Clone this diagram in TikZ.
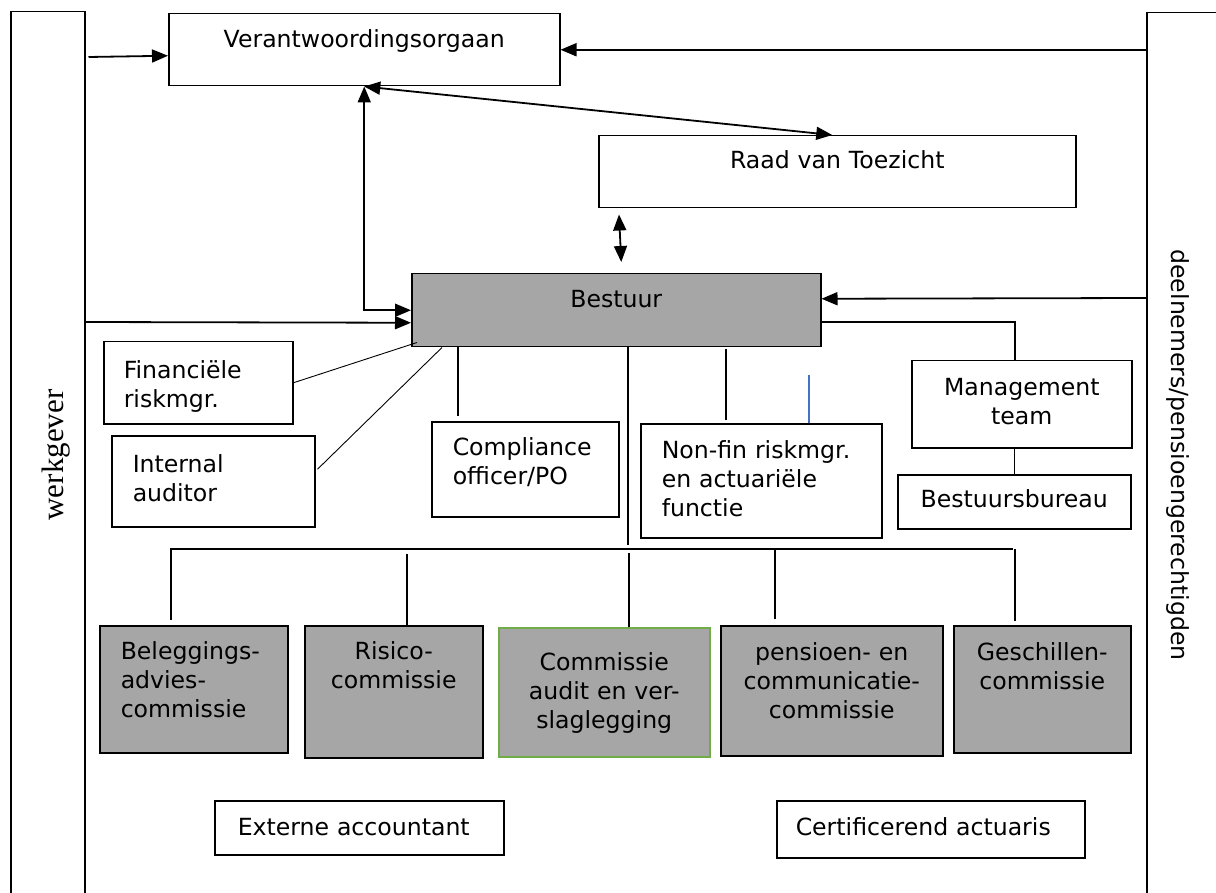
\documentclass[tikz,border=0pt]{standalone}
\usepackage{fontspec}
\setmainfont{DejaVu Sans}
\newfontfamily\serifside{Liberation Serif}
\usepackage{xcolor}
\usepackage{tikz}
\usetikzlibrary{calc}
\usetikzlibrary{arrows.meta}
\definecolor{boxgray}{HTML}{A6A6A6}
\definecolor{auditgreen}{HTML}{70AD47}
\definecolor{strayblue}{HTML}{4472C4}
\tikzset{
  unit/.style={draw, line width=0.75pt, fill=white, inner ysep=0pt, anchor=north west,
    font=\fontsize{11.8}{14.5}\selectfont},
  board/.style={unit, fill=boxgray},
  bar/.style={draw, line width=0.75pt, inner sep=0pt, minimum height=470pt, anchor=north west},
  link/.style={line width=0.75pt},
  thin link/.style={line width=0.45pt},
  arr/.style={line width=0.9pt, -{Triangle[length=8pt,width=6.5pt]}},
  darr/.style={line width=0.9pt, {Triangle[length=8pt,width=6.5pt]}-{Triangle[length=8pt,width=6.5pt]}},
}

\begin{document}
\begin{tikzpicture}[x=0.5pt,y=-0.5pt]
    \useasboundingbox (0,0) rectangle (1216,893);
    \clip (0,0) rectangle (1216,893);
    % side bars
        \node[bar, minimum width=37pt] (wg) at (10,11) {};
        \node[bar, minimum width=50pt] (dp) at (1146,12) {};
        \node[rotate=90, font=\serifside\fontsize{15.5}{18}\selectfont] (wgtext) at (56,455) {werkgever};
        \node[rotate=-90, font=\fontsize{11.8}{14}\selectfont] (dptext) at (1178,455) {deelnemers/pensioengerechtigden};
    % top
        \node[unit, text width=195.5pt, inner xsep=0pt, align=center, text height=17pt, text depth=19pt] (vo) at (168,13) {Verantwoordingsorgaan};
        \node[unit, text width=238.5pt, inner xsep=0pt, align=center, text height=16.5pt, text depth=19.5pt] (raad) at (598,135) {Raad van Toezicht};
        \node[board, text width=204.5pt, inner xsep=0pt, align=center, text height=17pt, text depth=19.5pt] (bestuur) at (411,273) {Bestuur};
    % functions round the board
        \node[unit, text width=74.5pt, inner xsep=10pt, align=left, text height=18.5pt, text depth=22.5pt] (fin) at (103,341) {Financiële\\riskmgr.};
        \node[unit, text width=80.5pt, inner xsep=10.5pt, align=left, text height=18.5pt, text depth=27pt] (internal) at (111,435) {Internal\\auditor};
        \node[unit, text width=72.5pt, inner xsep=10.5pt, align=left, text height=17pt, text depth=30.5pt] (compliance) at (431,421) {Compliance\\officer/PO};
        \node[unit, text width=99.5pt, inner xsep=10.5pt, align=left, text height=17.5pt, text depth=39.5pt] (nonfin) at (640,423) {Non-fin riskmgr.\\en actuariële\\functie};
        \node[unit, text width=110pt, inner xsep=0pt, align=center, text height=17.5pt, text depth=26pt] (mgmt) at (911,360) {Management\\team};
        \node[unit, text width=116.5pt, inner xsep=0pt, align=center, text height=16.5pt, text depth=10.5pt] (bureau) at (897,474) {Bestuursbureau};
    % committees
        \node[board, text width=73pt, inner xsep=10.5pt, align=left, text height=17pt, text depth=46.5pt] (beleg) at (99,625) {Beleggings-\\advies-\\commissie};
        \node[board, text width=89pt, inner xsep=0pt, align=center, text height=17pt, text depth=49pt] (risico) at (304,625) {Risico-\\commissie};
        \node[board, draw=auditgreen, text width=105.5pt, inner xsep=0pt, align=center, text height=21.5pt, text depth=43pt] (comm) at (498,627) {Commissie\\audit en ver-\\slaglegging};
        \node[board, text width=111pt, inner xsep=0pt, align=center, text height=17.5pt, text depth=47.5pt] (pens) at (720,625) {pensioen- en\\communicatie-\\commissie};
        \node[board, text width=88.5pt, inner xsep=0pt, align=center, text height=17.5pt, text depth=46pt] (gesch) at (953,625) {Geschillen-\\commissie};
    % external
        \node[unit, text width=121.5pt, inner xsep=11.5pt, align=left, text height=17.5pt, text depth=9.5pt] (externe) at (214,800) {Externe accountant};
        \node[unit, text width=135pt, inner xsep=9.5pt, align=left, text height=17.5pt, text depth=11pt] (cert) at (776,800) {Certificerend actuaris};
    % arrows
        \draw[arr] ($(wg.north east)+(3,46)$) -- ($(vo.west)+(0,6)$);
        \draw[arr] (dp.west |- vo.east) -- (vo.east);
        \draw[darr] (vo.south) -- ($(raad.north)+(-5,0)$);
        \draw[darr] (vo.south) |- (bestuur.west);
        \draw[arr] ($(wg.north east)+(0,311)$) -- ($(bestuur.west)+(0,12.5)$);
        \draw[darr] ($(raad.south west)+(21,6)$) -- ($(bestuur.north)+(5,-11)$);
        \draw[arr] ($(dp.north west)+(0,286)$) -- ($(bestuur.east)+(0,-11.5)$);
    % lines from the board
        \draw[link] ($(bestuur.east)+(0,12)$) -| ($(mgmt.north)+(-7,0)$);
        \draw[thin link] (fin.east) -- ($(bestuur.south west)+(6,-5)$);
        \draw[thin link] ($(internal.east)+(2,-12)$) -- ($(bestuur.south west)+(31,0)$);
        \draw[link] ($(bestuur.south west)+(47,0)$) -- ($(compliance.north west)+(27,-5)$);
        \draw[link] ($(bestuur.south west)+(217,0)$) -- ++(0,197);
        \draw[link] ($(bestuur.south west)+(315,2)$) -- ($(nonfin.north west)+(86,-3)$);
        \draw[strayblue, line width=0.6pt] ($(nonfin.north west)+(169,-48)$) -- ($(nonfin.north west)+(169,0)$);
        \draw[link] (bureau.north |- mgmt.south) -- (bureau.north);
    %committee bus
        \draw[link] ($(beleg.north west)+(72,-5)$) |- ($(gesch.north west)+(60,-76)$);
        \draw[link] ($(risico.north west)+(103,0)$) -- ++(0,-71);
        \draw[link] ($(comm.north west)+(131,0)$) -- ++(0,-74);
        \draw[link] ($(pens.north west)+(55,-6)$) -- ++(0,-70);
        \draw[link] ($(gesch.north west)+(62,-4)$) -- ++(0,-72);
\end{tikzpicture}
\end{document}
